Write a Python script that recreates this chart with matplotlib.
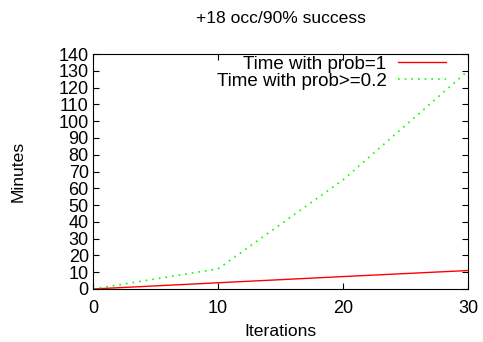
import matplotlib
matplotlib.use("Agg")
import matplotlib.pyplot as plt

plt.rcParams["font.family"] = ["Liberation Sans", "DejaVu Sans"]
plt.rcParams["font.size"] = 10

iters = [0, 10, 20, 30]
t_prob1 = [0, 3.7, 7.4, 11]
t_prob02 = [0, 12, 65, 130]

fig = plt.figure(figsize=(4.83, 3.42), dpi=100)
ax = fig.add_axes([0.1925, 0.155, 0.7765, 0.687])
ax.plot(iters, t_prob1, color="#ff0000", lw=1, label="Time with prob=1")
ax.plot(iters, t_prob02, color="#00ff00", lw=1.2, ls=(0, (1, 3)), label="Time with prob>=0.2")
ax.set_xlim(0, 30); ax.set_ylim(0, 140)
ax.set_xticks([0, 10, 20, 30]); ax.set_yticks(range(0, 141, 10))
ax.tick_params(direction="in", top=True, right=True, length=4, labelsize=13, pad=3)
ax.tick_params(axis="x", pad=8)
ax.set_xlabel("Iterations", fontsize=12.6, labelpad=5)
ax.set_ylabel("Minutes", fontsize=12.6, labelpad=24)
ax.set_title("+18 occ/90% success", fontsize=12.6, pad=22)
leg = ax.legend(loc="upper right", markerfirst=False, frameon=False, fontsize=13.5,
                handlelength=2.6, borderaxespad=0.15, borderpad=0.2, labelspacing=0.0,
                handletextpad=0.6, bbox_to_anchor=(0.96, 1.022))
for t in leg.get_texts():
    t.set_ha("right")
fig.savefig("out.png", dpi=100)
